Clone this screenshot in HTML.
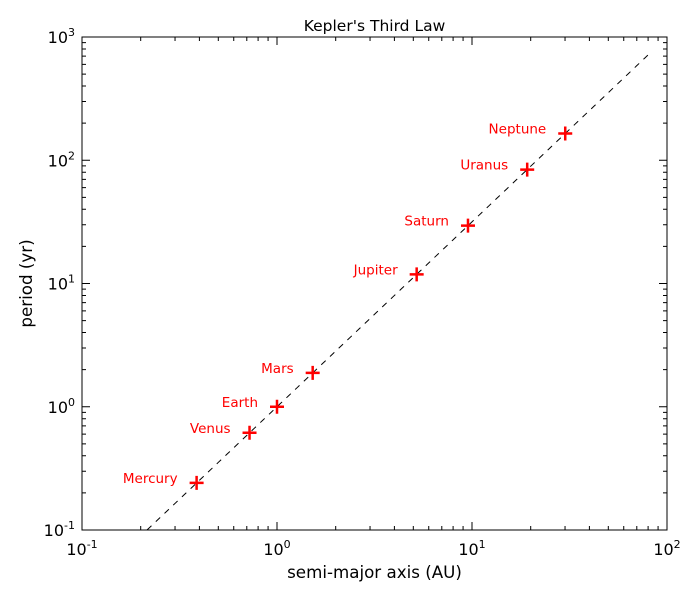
<!DOCTYPE html>
<html><head><meta charset="utf-8"><style>
body{margin:0;background:#fff}
svg text{font-family:"DejaVu Sans","Liberation Sans",sans-serif}
</style></head><body>
<svg id="chart" width="700" height="600" xmlns="http://www.w3.org/2000/svg">
<rect width="700" height="600" fill="#fff"/>
<g id="plot"></g>
</svg>
<script>
const planets=["Mercury","Venus","Earth","Mars","Jupiter","Saturn","Uranus","Neptune"];
const axisAU=[0.387,0.723,1.0,1.524,5.203,9.537,19.19,30.07];
const periodYr=[0.241,0.615,1.0,1.881,11.86,29.45,84.02,164.8];
const xTickExps=[-1,0,1,2];
const yTickExps=[-1,0,1,2,3];
const fitRange=[0.1,80];
const L=82,R=667,T=37,B=530;
const xMin=-1,xMax=2,yMin=-1,yMax=3;
const sx=v=>L+(Math.log10(v)-xMin)/(xMax-xMin)*(R-L);
const sy=v=>B-(Math.log10(v)-yMin)/(yMax-yMin)*(B-T);
const NS="http://www.w3.org/2000/svg";
const g=document.getElementById('plot');
function mk(tag,attrs,parent){const e=document.createElementNS(NS,tag);for(const k in attrs)e.setAttribute(k,attrs[k]);(parent||g).appendChild(e);return e;}
const pts=[];
for(let i=0;i<=200;i++){const a=fitRange[0]*Math.pow(fitRange[1]/fitRange[0],i/200);const t=Math.pow(a,1.5);if(t<0.1)continue;pts.push(sx(a).toFixed(2)+","+sy(t).toFixed(2));}
const fit=mk('polyline',{points:pts.join(' '),fill:'none',stroke:'#000','stroke-width':1,'stroke-dasharray':'6,6'});


planets.forEach((p,i)=>{
 const x=sx(axisAU[i]),y=sy(periodYr[i]);
 const m=mk('path',{d:`M${x-7},${y}H${x+7}M${x},${y-7}V${y+7}`,stroke:'red','stroke-width':2.5});
 
 
 const t=mk('text',{x:x-19,y:y,'text-anchor':'end',fill:'red','font-size':13.5});
 t.textContent=p;
 
 
});
const fr=mk('rect',{x:L,y:T,width:R-L,height:B-T,fill:'none',stroke:'#000','stroke-width':1});


let d='';
for(let e=xMin;e<=xMax;e++){const x=sx(Math.pow(10,e));d+=`M${x},${B}v-8M${x},${T}v8`;
 if(e<xMax)for(let k=2;k<10;k++){const xx=sx(k*Math.pow(10,e));d+=`M${xx},${B}v-4M${xx},${T}v4`;}}
for(let e=yMin;e<=yMax;e++){const y=sy(Math.pow(10,e));d+=`M${L},${y}h8M${R},${y}h-8`;
 if(e<yMax)for(let k=2;k<10;k++){const yy=sy(k*Math.pow(10,e));d+=`M${L},${yy}h4M${R},${yy}h-4`;}}
const tk=mk('path',{d:d,stroke:'#000','stroke-width':1,fill:'none'});


xTickExps.forEach(e=>{
 const t=mk('text',{x:sx(Math.pow(10,e)),y:B+25,'text-anchor':'middle','font-size':16});
 t.innerHTML=`10<tspan dy="-7" font-size="11">${e}</tspan>`;
 
 
});
yTickExps.forEach(e=>{
 const t=mk('text',{x:L-7,y:sy(Math.pow(10,e))+6,'text-anchor':'end','font-size':16});
 t.innerHTML=`10<tspan dy="-7" font-size="11">${e}</tspan>`;
 
 
});
const ti=mk('text',{x:(L+R)/2,y:31,'text-anchor':'middle','font-size':15.5});
ti.textContent="Kepler's Third Law";


const xl=mk('text',{x:(L+R)/2,y:578,'text-anchor':'middle','font-size':16.7});
xl.textContent="semi-major axis (AU)";


const yl=mk('text',{x:32,y:(T+B)/2,'text-anchor':'middle','font-size':16.7,transform:`rotate(-90 32 ${(T+B)/2})`});
yl.textContent="period (yr)";


</script>
</body></html>
